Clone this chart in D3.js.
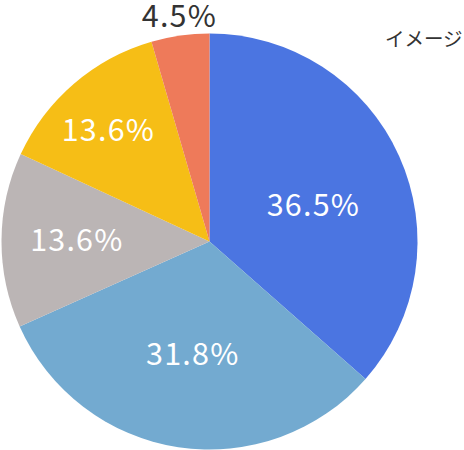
<!DOCTYPE html>
<html><head><meta charset="utf-8">
<script src="https://cdn.jsdelivr.net/npm/d3@7/dist/d3.min.js"></script>
<style>html,body{margin:0;padding:0;background:#fff;overflow:hidden}</style>
</head><body>
<svg id="c" width="464" height="450"></svg>
<script>
const categories = ["A", "B", "C", "D", "E"];
const values = [36.5, 31.8, 13.6, 13.6, 4.5];
const labels = ["36.5%", "31.8%", "13.6%", "13.6%", "4.5%"];
const legendTitle = "イメージ";

// styling
const colors = ["#4b75e1", "#73aad0", "#bbb5b5", "#f6be16", "#ee7a5a"];
const labelColors = ["#fff", "#fff", "#fff", "#fff", "#333"];
const labelRadius = [0.529, 0.548, 0.638, 0.724, 1.094];
const labelAngleShift = [5.1, -0.2, 0.2, -1.5, 0.5];

const svg = d3.select("#c");
const cx = 209.5, cy = 241.5, R = 208;
const g = svg.append("g").attr("transform", `translate(${cx},${cy})`);

const pie = d3.pie().sort(null).value(d => d.v);
const data = pie(categories.map((c, i) => ({c, v: values[i], i})));
const arc = d3.arc().innerRadius(0).outerRadius(R);

g.selectAll("path").data(data).join("path")
  .attr("d", arc)
  .attr("fill", d => colors[d.data.i]);

g.selectAll("text.lbl").data(data).join("text")
  .attr("class", "lbl")
  .attr("transform", d => {
    const a = (d.startAngle + d.endAngle) / 2 + labelAngleShift[d.data.i] * Math.PI / 180;
    const r = R * labelRadius[d.data.i];
    return `translate(${r * Math.sin(a)},${-r * Math.cos(a)})`;
  })
  .attr("text-anchor", "middle")
  .attr("dy", "0.36em")
  .attr("font-family", "'Noto Sans CJK JP', 'Noto Sans', sans-serif")
  .attr("font-size", 30.5)
  .attr("letter-spacing", 1.2)
  .attr("fill", d => labelColors[d.data.i])
  .text(d => labels[d.data.i]);

svg.append("text")
  .attr("x", 385).attr("y", 45.5)
  .attr("font-family", "'Noto Sans CJK JP', sans-serif")
  .attr("font-size", 19.5)
  .attr("fill", "#333")
  .text(legendTitle);
</script>
</body></html>
